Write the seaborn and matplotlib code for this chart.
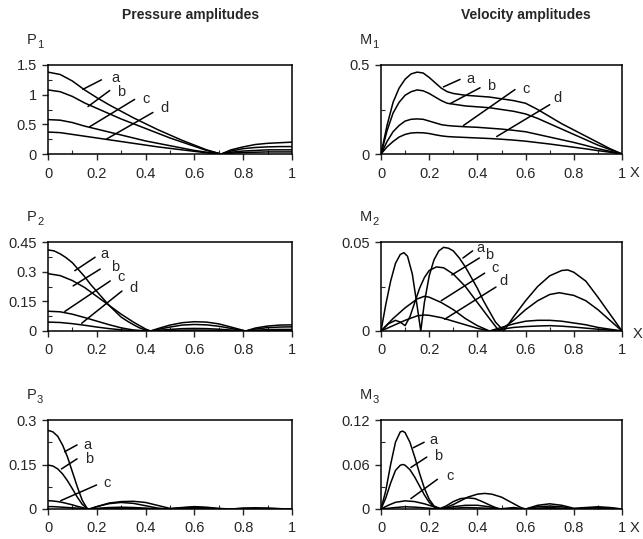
import numpy as np
import pandas as pd
import matplotlib
matplotlib.use("Agg")
import matplotlib.pyplot as plt
from matplotlib.ticker import MultipleLocator
import seaborn as sns

# ── values ──────────────────────────────────────────────────────────────────
CURVES = ["a", "b", "c", "d"]

# P1 : pressure amplitude, mode 1
p1_x = [0, 0.05, 0.1, 0.15, 0.2, 0.25, 0.3, 0.35, 0.4, 0.45, 0.5, 0.55, 0.6, 0.65,
        0.7, 0.71, 0.75, 0.8, 0.85, 0.9, 0.95, 1.0]
p1_a = [1.38, 1.34, 1.23, 1.08, 0.95, 0.83, 0.72, 0.61, 0.51, 0.41, 0.32, 0.23, 0.15, 0.07,
        0.01, 0.0, 0.07, 0.12, 0.16, 0.18, 0.19, 0.20]
p1_b = [1.08, 1.05, 0.97, 0.86, 0.77, 0.68, 0.59, 0.51, 0.43, 0.35, 0.27, 0.20, 0.13, 0.06,
        0.01, 0.0, 0.05, 0.09, 0.11, 0.12, 0.125, 0.125]
p1_c = [0.58, 0.57, 0.53, 0.47, 0.42, 0.37, 0.32, 0.27, 0.22, 0.18, 0.14, 0.10, 0.06, 0.03,
        0.005, 0.0, 0.03, 0.05, 0.06, 0.07, 0.07, 0.07]
p1_d = [0.37, 0.36, 0.33, 0.30, 0.27, 0.24, 0.21, 0.18, 0.15, 0.12, 0.095, 0.07, 0.045, 0.02,
        0.003, 0.0, 0.015, 0.025, 0.03, 0.035, 0.035, 0.035]

# M1 : velocity amplitude, mode 1
m1_x = [0, 0.025, 0.05, 0.075, 0.1, 0.125, 0.15, 0.175, 0.2, 0.225, 0.25, 0.275, 0.3, 0.35,
        0.4, 0.45, 0.5, 0.55, 0.6, 0.65, 0.7, 0.75, 0.8, 0.85, 0.9, 0.95, 1.0]
m1_a = [0, 0.16, 0.29, 0.37, 0.42, 0.45, 0.46, 0.455, 0.43, 0.40, 0.37, 0.35, 0.34, 0.33,
        0.325, 0.32, 0.31, 0.30, 0.285, 0.25, 0.21, 0.17, 0.135, 0.10, 0.065, 0.03, 0.0]
m1_b = [0, 0.13, 0.23, 0.29, 0.33, 0.35, 0.36, 0.355, 0.34, 0.32, 0.30, 0.285, 0.28, 0.27,
        0.265, 0.26, 0.25, 0.24, 0.225, 0.20, 0.17, 0.14, 0.11, 0.08, 0.05, 0.025, 0.0]
m1_c = [0, 0.07, 0.125, 0.16, 0.185, 0.195, 0.197, 0.195, 0.185, 0.175, 0.165, 0.16, 0.157, 0.153,
        0.15, 0.145, 0.14, 0.133, 0.125, 0.11, 0.095, 0.08, 0.065, 0.048, 0.03, 0.015, 0.0]
m1_d = [0, 0.04, 0.07, 0.095, 0.11, 0.118, 0.12, 0.119, 0.115, 0.108, 0.102, 0.098, 0.096, 0.093,
        0.09, 0.087, 0.083, 0.078, 0.072, 0.064, 0.056, 0.047, 0.038, 0.029, 0.019, 0.01, 0.0]

# P2 : pressure amplitude, mode 2
p2_x_a = [0, 0.025, 0.05, 0.075, 0.1, 0.125, 0.15, 0.175, 0.2, 0.225, 0.25, 0.275, 0.3, 0.325,
          0.35, 0.375, 0.4, 0.42, 0.45, 0.5, 0.55, 0.6, 0.65, 0.7, 0.75, 0.81, 0.85, 0.9, 0.95, 1.0]
p2_a = [0.41, 0.405, 0.39, 0.37, 0.345, 0.31, 0.275, 0.235, 0.20, 0.165, 0.13, 0.10, 0.07, 0.05,
        0.032, 0.016, 0.005, 0.0, 0.012, 0.03, 0.042, 0.047, 0.045, 0.036, 0.02, 0.0, 0.015, 0.025,
        0.03, 0.031]
p2_x = [0, 0.05, 0.1, 0.15, 0.2, 0.25, 0.3, 0.35, 0.4, 0.42, 0.45, 0.5, 0.55, 0.6, 0.65, 0.7,
        0.75, 0.81, 0.85, 0.9, 0.95, 1.0]
p2_b = [0.29, 0.28, 0.255, 0.22, 0.175, 0.13, 0.085, 0.045, 0.01, 0.0, 0.008, 0.02, 0.03, 0.033,
        0.031, 0.024, 0.013, 0.0, 0.01, 0.017, 0.02, 0.021]
p2_c = [0.10, 0.097, 0.085, 0.068, 0.05, 0.032, 0.016, 0.005, 0.001, 0.0, 0.003, 0.008, 0.012,
        0.013, 0.012, 0.009, 0.005, 0.0, 0.004, 0.007, 0.008, 0.008]
p2_d = [0.045, 0.043, 0.037, 0.029, 0.02, 0.012, 0.006, 0.002, 0.0, 0.0, 0.001, 0.003, 0.004,
        0.005, 0.004, 0.003, 0.001, 0.0, 0.001, 0.002, 0.003, 0.003]

# M2 : velocity amplitude, mode 2
m2_x_a = [0, 0.02, 0.04, 0.06, 0.08, 0.095, 0.11, 0.13, 0.15, 0.165, 0.18, 0.2, 0.22, 0.24, 0.26,
          0.28, 0.3, 0.325, 0.35, 0.375, 0.4, 0.425, 0.45, 0.475, 0.51, 0.55, 0.6, 0.65, 0.7,
          0.75, 0.775, 0.8, 0.85, 0.9, 0.95, 1.0]
m2_a = [0, 0.015, 0.028, 0.038, 0.043, 0.044, 0.042, 0.032, 0.014, 0.0, 0.016, 0.031, 0.040,
        0.045, 0.047, 0.0465, 0.045, 0.041, 0.036, 0.030, 0.024, 0.017, 0.011, 0.005, 0.0, 0.008,
        0.017, 0.025, 0.031, 0.034, 0.0343, 0.033, 0.028, 0.019, 0.0095, 0.0]
m2_x_b = [0, 0.03, 0.06, 0.08, 0.1, 0.12, 0.14, 0.16, 0.18, 0.2, 0.23, 0.26, 0.3, 0.35, 0.4,
          0.45, 0.49, 0.55, 0.6, 0.65, 0.7, 0.74, 0.8, 0.85, 0.9, 0.95, 1.0]
m2_b = [0, 0.004, 0.006, 0.005, 0.003, 0.008, 0.016, 0.024, 0.030, 0.034, 0.036, 0.0355, 0.032,
        0.025, 0.016, 0.007, 0.0, 0.006, 0.012, 0.017, 0.0205, 0.0215, 0.020, 0.017, 0.012,
        0.006, 0.0]
m2_x = [0, 0.05, 0.1, 0.15, 0.18, 0.2, 0.25, 0.3, 0.35, 0.4, 0.45, 0.5, 0.55, 0.6, 0.65, 0.7,
        0.75, 0.8, 0.85, 0.9, 0.95, 1.0]
m2_c = [0, 0.007, 0.013, 0.018, 0.0195, 0.019, 0.016, 0.012, 0.007, 0.003, 0.0, 0.002, 0.004,
        0.0055, 0.006, 0.006, 0.0055, 0.0045, 0.0035, 0.002, 0.001, 0.0]
m2_d = [0, 0.003, 0.006, 0.0085, 0.009, 0.0088, 0.0075, 0.0055, 0.0035, 0.0015, 0.0, 0.001,
        0.002, 0.0025, 0.0028, 0.003, 0.0027, 0.0022, 0.0016, 0.001, 0.0005, 0.0]

# P3 : pressure amplitude, mode 3
p3_x = [0, 0.02, 0.04, 0.06, 0.08, 0.1, 0.12, 0.14, 0.16, 0.17, 0.2, 0.25, 0.3, 0.35, 0.4,
        0.45, 0.5, 0.55, 0.6, 0.65, 0.7, 0.75, 0.8, 0.85, 0.9, 0.95, 1.0]
p3_a = [0.265, 0.26, 0.245, 0.215, 0.175, 0.125, 0.075, 0.03, 0.002, 0.0, 0.008, 0.02, 0.025,
        0.026, 0.022, 0.012, 0.002, 0.005, 0.008, 0.006, 0.002, 0.0, 0.003, 0.004, 0.003, 0.001, 0.0]
p3_b = [0.148, 0.145, 0.135, 0.118, 0.095, 0.068, 0.040, 0.016, 0.002, 0.0, 0.008, 0.018, 0.022,
        0.019, 0.011, 0.003, 0.0, 0.004, 0.006, 0.004, 0.001, 0.0, 0.002, 0.002, 0.002, 0.001, 0.0]
p3_c = [0.028, 0.027, 0.025, 0.022, 0.018, 0.014, 0.009, 0.005, 0.001, 0.0, 0.002, 0.005, 0.006,
        0.005, 0.003, 0.001, 0.0, 0.001, 0.002, 0.001, 0.0, 0.0, 0.0, 0.001, 0.001, 0.0, 0.0]
p3_d = [0.008, 0.008, 0.007, 0.006, 0.005, 0.004, 0.003, 0.002, 0.0, 0.0, 0.001, 0.002, 0.002,
        0.002, 0.001, 0.0, 0.0, 0.0, 0.001, 0.0, 0.0, 0.0, 0.0, 0.0, 0.0, 0.0, 0.0]

# M3 : velocity amplitude, mode 3
m3_x_a = [0, 0.02, 0.04, 0.06, 0.08, 0.09, 0.1, 0.12, 0.14, 0.16, 0.18, 0.2, 0.22, 0.25, 0.27,
          0.3, 0.33, 0.36, 0.4, 0.43, 0.46, 0.5, 0.54, 0.58, 0.6, 0.65, 0.7, 0.75, 0.8, 0.85,
          0.9, 0.95, 1.0]
m3_a = [0, 0.025, 0.06, 0.09, 0.104, 0.105, 0.103, 0.09, 0.07, 0.048, 0.028, 0.013, 0.004, 0.0,
        0.002, 0.006, 0.011, 0.016, 0.020, 0.021, 0.020, 0.016, 0.009, 0.002, 0.0, 0.005, 0.007,
        0.005, 0.001, 0.002, 0.003, 0.002, 0.0]
m3_x_b = [0, 0.02, 0.04, 0.06, 0.08, 0.09, 0.1, 0.12, 0.14, 0.16, 0.18, 0.2, 0.22, 0.24, 0.27,
          0.3, 0.33, 0.36, 0.39, 0.42, 0.46, 0.49, 0.55, 0.6, 0.65, 0.7, 0.75, 0.8, 0.9, 1.0]
m3_b = [0, 0.015, 0.035, 0.052, 0.059, 0.06, 0.059, 0.053, 0.043, 0.031, 0.019, 0.009, 0.003,
        0.0, 0.004, 0.010, 0.014, 0.015, 0.014, 0.010, 0.004, 0.0, 0.002, 0.0, 0.003, 0.004,
        0.003, 0.0, 0.002, 0.0]
m3_x = [0, 0.03, 0.06, 0.1, 0.14, 0.18, 0.22, 0.25, 0.3, 0.35, 0.4, 0.45, 0.5, 0.6, 0.7, 0.8,
        0.9, 1.0]
m3_c = [0, 0.005, 0.009, 0.011, 0.010, 0.007, 0.003, 0.0, 0.003, 0.005, 0.005, 0.003, 0.0, 0.0,
        0.002, 0.0, 0.001, 0.0]
m3_d = [0, 0.001, 0.002, 0.003, 0.0025, 0.0015, 0.0005, 0.0, 0.001, 0.002, 0.0015, 0.001, 0.0,
        0.0, 0.001, 0.0, 0.0, 0.0]

# ── label leader lines : (curve point, line end, text point) ────────────────
P1_LABELS = {"a": [(0.143, 1.09), (0.219, 1.25), (0.26, 1.28)],
             "b": [(0.164, 0.80), (0.253, 1.07), (0.283, 1.05)],
             "c": [(0.171, 0.46), (0.355, 0.92), (0.387, 0.92)],
             "d": [(0.239, 0.25), (0.43, 0.70), (0.462, 0.77)]}
M1_LABELS = {"a": [(0.259, 0.377), (0.328, 0.419), (0.353, 0.423)],
             "b": [(0.287, 0.283), (0.411, 0.372), (0.439, 0.381)],
             "c": [(0.342, 0.16), (0.556, 0.362), (0.588, 0.366)],
             "d": [(0.48, 0.098), (0.70, 0.277), (0.714, 0.315)]}
P2_LABELS = {"a": [(0.11, 0.305), (0.193, 0.373), (0.214, 0.39)],
             "b": [(0.103, 0.228), (0.214, 0.313), (0.258, 0.322)],
             "c": [(0.069, 0.099), (0.255, 0.253), (0.286, 0.274)],
             "d": [(0.138, 0.039), (0.303, 0.202), (0.335, 0.219)]}
M2_LABELS = {"a": [(0.34, 0.041), (0.38, 0.045), (0.395, 0.0465)],
             "b": [(0.294, 0.0315), (0.408, 0.041), (0.432, 0.0425)],
             "c": [(0.25, 0.017), (0.43, 0.0325), (0.457, 0.0354)],
             "d": [(0.264, 0.0066), (0.477, 0.0247), (0.49, 0.028)]}
P3_LABELS = {"a": [(0.068, 0.193), (0.119, 0.216), (0.144, 0.217)],
             "b": [(0.055, 0.135), (0.119, 0.169), (0.15, 0.168)],
             "c": [(0.052, 0.028), (0.199, 0.081), (0.226, 0.088)]}
M3_LABELS = {"a": [(0.134, 0.0826), (0.179, 0.090), (0.2, 0.0926)],
             "b": [(0.124, 0.056), (0.19, 0.07), (0.22, 0.071)],
             "c": [(0.124, 0.014), (0.234, 0.040), (0.273, 0.044)]}


def long_frame(series):
    """series: list of (curve name, x list, y list) -> tidy DataFrame"""
    rows = []
    for name, xs, ys in series:
        rows.append(pd.DataFrame({"x": xs, "y": ys, "curve": name}))
    return pd.concat(rows, ignore_index=True)


PANELS = [
    dict(name="P", idx="1", df=long_frame([("a", p1_x, p1_a), ("b", p1_x, p1_b),
                                          ("c", p1_x, p1_c), ("d", p1_x, p1_d)]),
         ymax=1.5, major=0.5, minor=0.25, labels=P1_LABELS, ticks=["0", "0.5", "1", "1.5"]),
    dict(name="M", idx="1", df=long_frame([("a", m1_x, m1_a), ("b", m1_x, m1_b),
                                          ("c", m1_x, m1_c), ("d", m1_x, m1_d)]),
         ymax=0.5, major=0.5, minor=0.25, labels=M1_LABELS, ticks=["0", "0.5"]),
    dict(name="P", idx="2", df=long_frame([("a", p2_x_a, p2_a), ("b", p2_x, p2_b),
                                          ("c", p2_x, p2_c), ("d", p2_x, p2_d)]),
         ymax=0.45, major=0.15, minor=0.075, labels=P2_LABELS, ticks=["0", "0.15", "0.3", "0.45"]),
    dict(name="M", idx="2", df=long_frame([("a", m2_x_a, m2_a), ("b", m2_x_b, m2_b),
                                          ("c", m2_x, m2_c), ("d", m2_x, m2_d)]),
         ymax=0.05, major=0.05, minor=0.025, labels=M2_LABELS, ticks=["0", "0.05"]),
    dict(name="P", idx="3", df=long_frame([("a", p3_x, p3_a), ("b", p3_x, p3_b),
                                          ("c", p3_x, p3_c), ("d", p3_x, p3_d)]),
         ymax=0.3, major=0.15, minor=0.075, labels=P3_LABELS, ticks=["0", "0.15", "0.3"]),
    dict(name="M", idx="3", df=long_frame([("a", m3_x_a, m3_a), ("b", m3_x_b, m3_b),
                                          ("c", m3_x, m3_c), ("d", m3_x, m3_d)]),
         ymax=0.12, major=0.06, minor=0.03, labels=M3_LABELS, ticks=["0", "0.06", "0.12"]),
]

# ── style ───────────────────────────────────────────────────────────────────
sns.set_style("ticks")
plt.rcParams["font.family"] = ["Liberation Sans", "DejaVu Sans"]
plt.rcParams["axes.edgecolor"] = "black"
plt.rcParams["axes.linewidth"] = 1.1

W, H = 643, 539
fig = plt.figure(figsize=(W / 100, H / 100), dpi=100)

col_left = [48, 381]
col_width = [244, 241]
row_top = [65, 242, 420]
row_h = 89

for i, p in enumerate(PANELS):
    r, c = divmod(i, 2)
    left, top = col_left[c], row_top[r]
    ax = fig.add_axes([left / W, 1 - (top + row_h) / H, col_width[c] / W, row_h / H])

    sns.lineplot(data=p["df"], x="x", y="y", hue="curve", units="curve", estimator=None,
                 palette=["black"] * 4, linewidth=1.1, legend=False, sort=False, ax=ax)

    for name, (p0, p1, pt) in p["labels"].items():
        ax.plot([p0[0], p1[0]], [p0[1], p1[1]], color="black", linewidth=1.1)
        ax.text(pt[0], pt[1], name, fontsize=10.5, ha="left", va="center")

    ax.set_xlim(0, 1)
    ax.set_ylim(0, p["ymax"])
    ax.set_xticks(np.arange(0, 1.01, 0.2))
    ax.set_xticklabels(["0", "0.2", "0.4", "0.6", "0.8", "1"])
    ax.xaxis.set_minor_locator(MultipleLocator(0.1))
    ax.set_yticks(np.arange(0, p["ymax"] + 1e-9, p["major"]))
    ax.set_yticklabels(p["ticks"])
    ax.yaxis.set_minor_locator(MultipleLocator(p["minor"]))
    ax.tick_params(which="major", direction="out", length=4, width=1, labelsize=10.5)
    ax.tick_params(axis="x", which="major", pad=5)
    ax.tick_params(axis="y", which="major", pad=4)
    ax.tick_params(which="minor", direction="in", length=3, width=0.8)
    ax.set_xlabel("")
    ax.set_ylabel("")
    for s in ax.spines.values():
        s.set_visible(True)

    # axis name with subscript, above the top-left corner
    fig.text((left - 21) / W, 1 - (top - 25) / H, p["name"], fontsize=10.5, ha="left", va="center")
    fig.text((left - 21 + (10 if p["name"] == "P" else 12.5)) / W, 1 - (top - 20) / H, p["idx"],
             fontsize=8, ha="left", va="center")

    if c == 1:
        y_x = top + row_h + (3 if r == 1 else 19)
        x_x = 633 if r == 1 else 630
        fig.text(x_x / W, 1 - y_x / H, "X", fontsize=10.5, ha="left", va="center")

fig.text(191 / W, 1 - 15 / H, "Pressure amplitudes", fontsize=10, fontweight="bold",
         ha="center", va="center")
fig.text(526 / W, 1 - 15 / H, "Velocity amplitudes", fontsize=10, fontweight="bold",
         ha="center", va="center")

fig.savefig("out.png", dpi=100)
